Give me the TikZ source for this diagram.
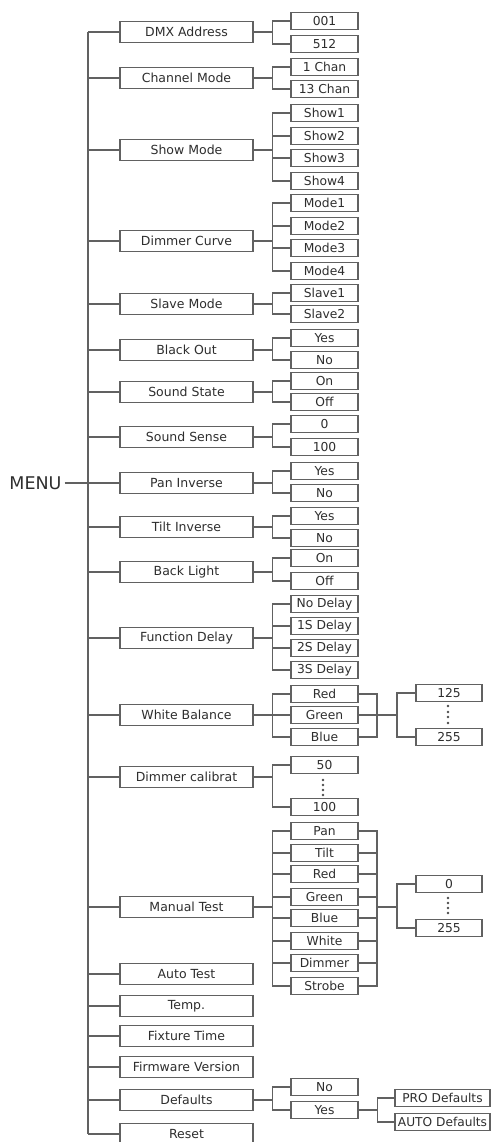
\documentclass[tikz,border=0pt]{standalone}
\usepackage{fontspec}
\setmainfont{DejaVu Sans}
\begin{document}
\begin{tikzpicture}[x=1pt,y=-1pt,
  wire/.style={draw=black!62,line width=1.1pt},
  boxbase/.style={draw=black!62,line width=1.1pt,inner sep=0pt,text=black!82,fill=white},
  mainbox/.style={boxbase,minimum width=133pt,minimum height=21pt,font=\fontsize{12.5}{14}\selectfont},
  subbox/.style={boxbase,minimum width=67pt,minimum height=17pt,font=\fontsize{12.3}{13}\selectfont},
  valbox/.style={boxbase,minimum width=66pt,minimum height=17pt,font=\fontsize{12.3}{13}\selectfont},
  defbox/.style={boxbase,minimum width=95pt,minimum height=17pt,font=\fontsize{12.2}{13}\selectfont},
  dotmark/.style={fill=black!70,draw=none,circle,inner sep=0pt,minimum size=2.6pt}]
\useasboundingbox (0,0) rectangle (497,1142);
% trunk reference
\coordinate (T) at (88,0);
\node[text=black!82,font=\fontsize{17.5}{19}\selectfont,inner sep=0pt] (menu) at (35.5,483) {MENU};
% main boxes
\node[mainbox] (m1) at (186.5,32) {DMX Address};
\node[mainbox] (m2) at (186.5,78) {Channel Mode};
\node[mainbox] (m3) at (186.5,150) {Show Mode};
\node[mainbox] (m4) at (186.5,241) {Dimmer Curve};
\node[mainbox] (m5) at (186.5,304) {Slave Mode};
\node[mainbox] (m6) at (186.5,350) {Black Out};
\node[mainbox] (m7) at (186.5,392) {Sound State};
\node[mainbox] (m8) at (186.5,437) {Sound Sense};
\node[mainbox] (m9) at (186.5,483) {Pan Inverse};
\node[mainbox] (m10) at (186.5,527) {Tilt Inverse};
\node[mainbox] (m11) at (186.5,572) {Back Light};
\node[mainbox] (m12) at (186.5,638) {Function Delay};
\node[mainbox] (m13) at (186.5,715) {White Balance};
\node[mainbox] (m14) at (186.5,777) {Dimmer calibrat};
\node[mainbox] (m15) at (186.5,907) {Manual Test};
\node[mainbox] (m16) at (186.5,974) {Auto Test};
\node[mainbox] (m17) at (186.5,1006) {Temp.};
\node[mainbox] (m18) at (186.5,1036) {Fixture Time};
\node[mainbox] (m19) at (186.5,1067) {Firmware Version};
\node[mainbox] (m20) at (186.5,1100) {Defaults};
\node[mainbox,text depth=0pt] (m21) at (186.5,1134) {Reset};
% trunk
\draw[wire] (m1.west -| T) -- (m21.west -| T);
\draw[wire] (menu.east) ++(3,0) -- (menu.east -| T);
\foreach \i in {1,...,21}{\draw[wire] (m\i.west -| T) -- (m\i.west);}
% second level
\node[subbox] (a1) at (324.5,21) {001};
\node[subbox] (a2) at (324.5,44) {512};
\node[subbox] (b1) at (324.5,67) {1 Chan};
\node[subbox] (b2) at (324.5,89) {13 Chan};
\node[subbox] (c1) at (324.5,113) {Show1};
\node[subbox] (c2) at (324.5,136) {Show2};
\node[subbox] (c3) at (324.5,158) {Show3};
\node[subbox] (c4) at (324.5,181) {Show4};
\node[subbox] (d1) at (324.5,203) {Mode1};
\node[subbox] (d2) at (324.5,226) {Mode2};
\node[subbox] (d3) at (324.5,248) {Mode3};
\node[subbox] (d4) at (324.5,271) {Mode4};
\node[subbox] (e1) at (324.5,293) {Slave1};
\node[subbox] (e2) at (324.5,314) {Slave2};
\node[subbox] (f1) at (324.5,338) {Yes};
\node[subbox] (f2) at (324.5,360) {No};
\node[subbox] (g1) at (324.5,381) {On};
\node[subbox] (g2) at (324.5,402) {Off};
\node[subbox] (h1) at (324.5,424) {0};
\node[subbox] (h2) at (324.5,447) {100};
\node[subbox] (i1) at (324.5,471) {Yes};
\node[subbox] (i2) at (324.5,493) {No};
\node[subbox] (j1) at (324.5,516) {Yes};
\node[subbox] (j2) at (324.5,538) {No};
\node[subbox] (k1) at (324.5,558) {On};
\node[subbox] (k2) at (324.5,581) {Off};
\node[subbox] (l1) at (324.5,604) {No Delay};
\node[subbox] (l2) at (324.5,626) {1S Delay};
\node[subbox] (l3) at (324.5,648) {2S Delay};
\node[subbox] (l4) at (324.5,670) {3S Delay};
\node[subbox] (n1) at (324.5,694) {Red};
\node[subbox] (n2) at (324.5,715) {Green};
\node[subbox] (n3) at (324.5,737) {Blue};
\node[subbox] (o1) at (324.5,765) {50};
\node[subbox] (o2) at (324.5,807) {100};
\node[subbox] (p1) at (324.5,831) {Pan};
\node[subbox] (p2) at (324.5,853) {Tilt};
\node[subbox] (p3) at (324.5,874) {Red};
\node[subbox] (p4) at (324.5,897) {Green};
\node[subbox] (p5) at (324.5,918) {Blue};
\node[subbox] (p6) at (324.5,941) {White};
\node[subbox] (p7) at (324.5,963) {Dimmer};
\node[subbox] (p8) at (324.5,986) {Strobe};
\node[subbox] (q1) at (324.5,1087) {No};
\node[subbox] (q2) at (324.5,1110) {Yes};
% branches main -> second
\foreach \m/\cs in {m1/{a1,a2},m2/{b1,b2},m3/{c1,c2,c3,c4},m4/{d1,d2,d3,d4},m5/{e1,e2},
  m6/{f1,f2},m7/{g1,g2},m8/{h1,h2},m9/{i1,i2},m10/{j1,j2},m11/{k1,k2},m12/{l1,l2,l3,l4},
  m13/{n1,n2,n3},m14/{o1,o2},m15/{p1,p2,p3,p4,p5,p6,p7,p8},m20/{q1,q2}}{
  \foreach \c in \cs {\draw[wire] (\m.east) -- ++(19,0) |- (\c.west);}
}
% third level: white balance
\node[valbox] (v1) at (449,693) {125};
\node[valbox] (v2) at (449,737) {255};
\coordinate (wbj) at (377,715);
\coordinate (wbo) at (397,715);
\foreach \c in {n1,n2,n3}{\draw[wire] (\c.east) -| (wbj);}
\draw[wire] (wbj) -- (wbo);
\draw[wire] (wbo) |- (v1.west);
\draw[wire] (wbo) |- (v2.west);
\foreach \yy in {706,712,717,723}{\node[dotmark] at (448,\yy) {};}
% dimmer calibrat dots
\foreach \yy in {780,785,790,795}{\node[dotmark] at (323,\yy) {};}
% manual test third level
\node[valbox] (w1) at (449,884) {0};
\node[valbox] (w2) at (449,928) {255};
\coordinate (mtj) at (377,907);
\coordinate (mto) at (397,907);
\foreach \c in {p1,p2,p3,p4,p5,p6,p7,p8}{\draw[wire] (\c.east) -| (mtj);}
\draw[wire] (mtj) -- (mto);
\draw[wire] (mto) |- (w1.west);
\draw[wire] (mto) |- (w2.west);
\foreach \yy in {898,903,908,913}{\node[dotmark] at (448,\yy) {};}
% defaults third level
\node[defbox] (r1) at (442.5,1098) {PRO Defaults};
\node[defbox] (r2) at (442.5,1122) {AUTO Defaults};
\draw[wire] (q2.east) -- ++(19,0) |- (r1.west);
\draw[wire] (q2.east) -- ++(19,0) |- (r2.west);
\end{tikzpicture}
\end{document}
